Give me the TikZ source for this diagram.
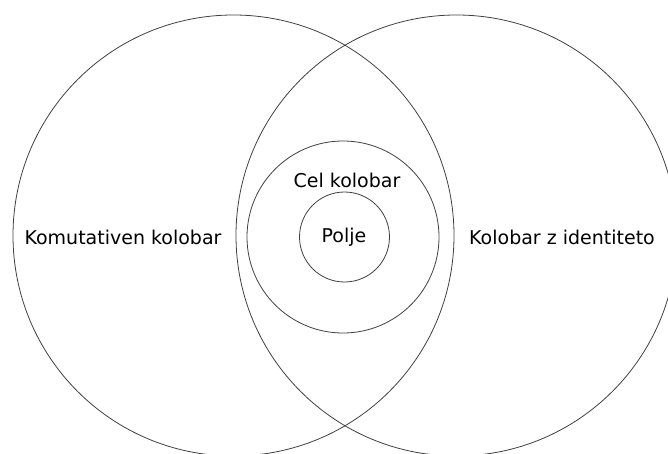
\documentclass[tikz,border=0pt]{standalone}
\usepackage{fontspec}
\setmainfont{DejaVu Sans}
\begin{document}
\begin{tikzpicture}[x=1pt,y=-1pt,
  ring/.style={draw=black!75,line width=0.8pt},
  lbl/.style={font=\fontsize{19}{22}\selectfont,text=black,inner sep=0pt}]
\useasboundingbox (0,0) rectangle (668,454);
\begin{scope}
\clip (0,0) rectangle (668,454);
\draw[ring] (233.5,235.5) circle (220.5);
\draw[ring] (456.5,235.5) circle (220.5);
\draw[ring] (343,237) circle (96);
\draw[ring] (344.5,237) circle (45);
\end{scope}
\node[lbl] (kom) at (123,237) {Komutativen kolobar};
\node[lbl] (kid) at (562,237) {Kolobar z identiteto};
\node[lbl] (cel) at (347,180) {Cel kolobar};
\node[lbl] (pol) at (344,237) {Polje};
\end{tikzpicture}
\end{document}
